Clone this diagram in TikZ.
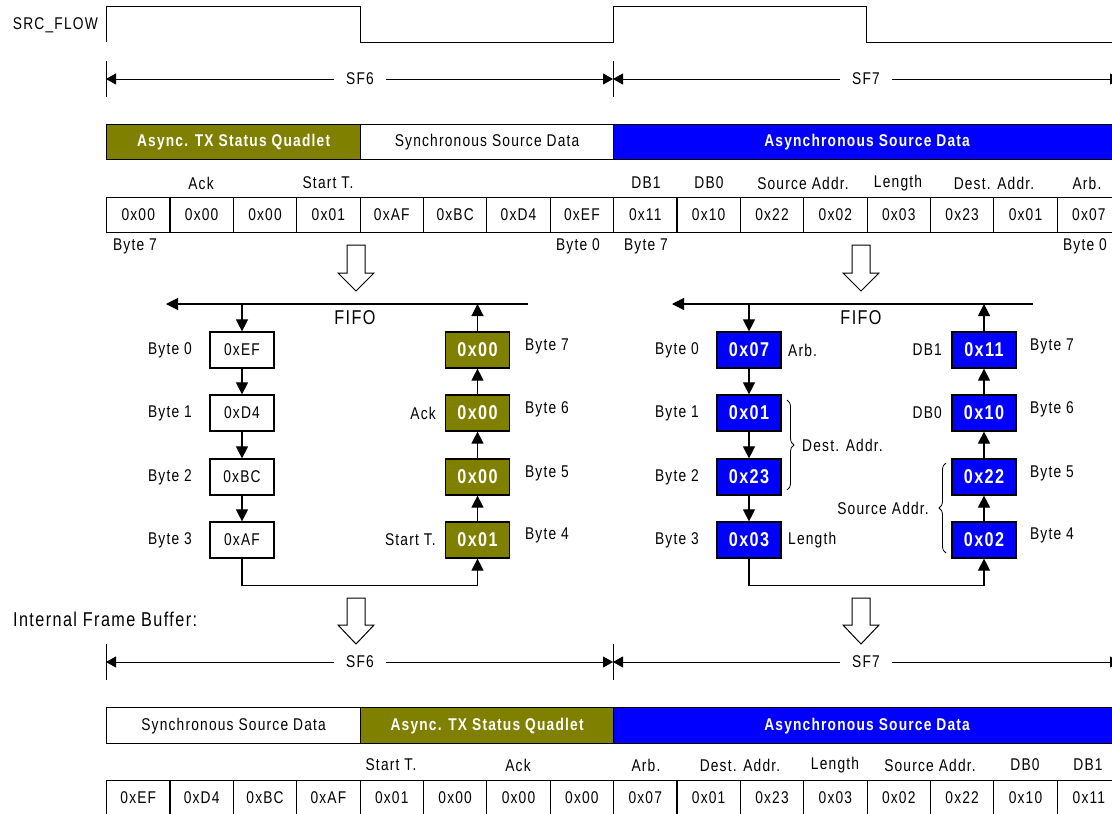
\documentclass[tikz,border=0pt]{standalone}
\usepackage{fontspec}
\setmainfont{Liberation Sans}[FakeStretch=0.81,LetterSpace=7]
\usetikzlibrary{arrows.meta,decorations.pathreplacing,calc}
\definecolor{olv}{HTML}{808000}
\definecolor{blu}{HTML}{0000FF}
\newcommand\fA{\fontsize{17}{20}\selectfont}
\newcommand\fB{\fontsize{20}{23}\selectfont}
\tikzset{
 every node/.style={inner sep=0pt},
 lab/.style={font=\fA},
 cellw/.style={draw, line width=1.2pt, minimum width=63.375pt, minimum height=35pt, font=\fA, anchor=north west},
 bar/.style={draw, line width=1.2pt, minimum height=35pt, anchor=north west, font=\fA},
 obar/.style={bar, fill=olv, text=white, font=\fA\bfseries},
 bbar/.style={bar, fill=blu, text=white, font=\fA\bfseries},
 fbox/.style={draw, line width=1.2pt, minimum width=64pt, minimum height=36pt},
 fw/.style={fbox, font=\fA},
 fo/.style={fbox, fill=olv, text=white, font=\fB\bfseries},
 fb/.style={fbox, fill=blu, text=white, font=\fB\bfseries},
 conn/.style={line width=1.1pt, -{Triangle[length=12pt,width=12pt]}},
 dim/.style={line width=1pt, {Triangle[length=10pt,width=11pt]}-{Triangle[length=10pt,width=11pt]}},
 tick/.style={line width=1pt},
 blk/.style={line width=1pt, fill=white},
 brc/.style={decorate, decoration={brace, amplitude=7pt}, line width=0.8pt},
 dimlab/.style={font=\fA, fill=white, inner xsep=12pt, inner ysep=2pt},
}
\begin{document}
\begin{tikzpicture}[x=1pt,y=-1pt]
\useasboundingbox (0,0) rectangle (1112,814);

% ---------- SRC_FLOW ----------
\node[lab, anchor=east] (srcflow) at (98,25) {SRC\_FLOW};
\draw[line width=1pt] (106,42) -- (106,6) -- (360,6) -- (360,42) -- (613,42) -- (613,6) -- (866,6) -- (866,42) -- (1120,42);

% ---------- top dimension lines ----------
\draw[tick] (106,61) -- (106,97);
\draw[tick] (613,61) -- (613,97);
\draw[tick] (1120,61) -- (1120,97);
\coordinate (u6a) at (106,79); \coordinate (u6b) at (613,79);
\coordinate (u7a) at (613,79); \coordinate (u7b) at (1120,79);
\draw[dim] (u6a) -- (u6b);
\draw[dim] (u7a) -- (u7b);
\node[dimlab] (usf6) at (360,79) {SF6};
\node[dimlab] (usf7) at (866,79) {SF7};

% ---------- top bars ----------
\node[obar, minimum width=254pt] (tatx) at (106,124) {Async. TX Status Quadlet};
\node[bar, minimum width=253pt] (tssd) at (360,124) {Synchronous Source Data};
\node[bbar, minimum width=507pt] (tasd) at (613,124) {Asynchronous Source Data};

% ---------- top labels ----------
\node[lab] (tlA) at (201,183) {Ack};
\node[lab] (tlB) at (328,183) {Start T.};
\node[lab] (tlC) at (646,183) {DB1};
\node[lab] (tlD) at (709,183) {DB0};
\node[lab] (tlE) at (803,183) {Source Addr.};
\node[lab] (tlF) at (898,183) {Length};
\node[lab] (tlG) at (994,183) {Dest. Addr.};
\node[lab] (tlH) at (1087,183) {Arb.};

% ---------- top cells ----------
\foreach \v [count=\i from 0] in {0x00,0x00,0x00,0x01,0xAF,0xBC,0xD4,0xEF,0x11,0x10,0x22,0x02,0x03,0x23,0x01,0x07}
  \node[cellw] (t\i) at ({106+63.375*\i},197) {\v};

\node[lab] (tb1) at (135,246) {Byte 7};
\node[lab] (tb2) at (578,246) {Byte 0};
\node[lab] (tb3) at (646,246) {Byte 7};
\node[lab] (tb4) at (1085,246) {Byte 0};

% ---------- block arrows (upper) ----------
\draw[blk] (347,245) -- (365,245) -- (365,273) -- (374,273) -- (356,291) -- (338,273) -- (347,273) -- cycle;
\draw[blk] (852,245) -- (870,245) -- (870,273) -- (879,273) -- (861,291) -- (843,273) -- (852,273) -- cycle;

% ---------- FIFO left ----------
\coordinate (fL1) at (528,304); \coordinate (fL2) at (166,304);
\draw[conn] (fL1) -- (fL2);
\node[font=\fB] (fifo1) at (355,318) {FIFO};
\node[fw] (L0) at (242,350) {0xEF};
\node[fw] (L1) at (242,413) {0xD4};
\node[fw] (L2) at (242,477) {0xBC};
\node[fw] (L3) at (242,540) {0xAF};
\node[fo] (R7) at (477.5,350) {0x00};
\node[fo] (R6) at (477.5,413) {0x00};
\node[fo] (R5) at (477.5,477) {0x00};
\node[fo] (R4) at (477.5,540) {0x01};
\draw[conn] (L0.north |- fL1) -- (L0.north);
\draw[conn] (L0) -- (L1);
\draw[conn] (L1) -- (L2);
\draw[conn] (L2) -- (L3);
\draw[conn] (L3.south) -- ++(0,27) -| (R4.south);
\draw[conn] (R4) -- (R5);
\draw[conn] (R5) -- (R6);
\draw[conn] (R6) -- (R7);
\draw[conn] (R7.north) -- (R7.north |- fL1);
\node[lab] (lb0) at (170,350) {Byte 0};
\node[lab] (lb1) at (170,413) {Byte 1};
\node[lab] (lb2) at (170,477) {Byte 2};
\node[lab] (lb3) at (170,540) {Byte 3};
\node[lab] (lb7) at (547,346) {Byte 7};
\node[lab] (lb6) at (547,409) {Byte 6};
\node[lab] (lb5) at (547,473) {Byte 5};
\node[lab] (lb4) at (547,535) {Byte 4};
\node[lab, anchor=east] (lack) at (436,413) {Ack};
\node[lab, anchor=east] (lst) at (436,540) {Start T.};

% ---------- FIFO right ----------
\coordinate (fR1) at (1033,304); \coordinate (fR2) at (672,304);
\draw[conn] (fR1) -- (fR2);
\node[font=\fB] (fifo2) at (861,318) {FIFO};
\node[fb] (A0) at (749,350) {0x07};
\node[fb] (A1) at (749,413) {0x01};
\node[fb] (A2) at (749,477) {0x23};
\node[fb] (A3) at (749,540) {0x03};
\node[fb] (B7) at (984,350) {0x11};
\node[fb] (B6) at (984,413) {0x10};
\node[fb] (B5) at (984,477) {0x22};
\node[fb] (B4) at (984,540) {0x02};
\draw[conn] (A0.north |- fR1) -- (A0.north);
\draw[conn] (A0) -- (A1);
\draw[conn] (A1) -- (A2);
\draw[conn] (A2) -- (A3);
\draw[conn] (A3.south) -- ++(0,27) -| (B4.south);
\draw[conn] (B4) -- (B5);
\draw[conn] (B5) -- (B6);
\draw[conn] (B6) -- (B7);
\draw[conn] (B7.north) -- (B7.north |- fR1);
\node[lab] (rb0) at (677,350) {Byte 0};
\node[lab] (rb1) at (677,413) {Byte 1};
\node[lab] (rb2) at (677,477) {Byte 2};
\node[lab] (rb3) at (677,540) {Byte 3};
\node[lab] (rb7) at (1052,346) {Byte 7};
\node[lab] (rb6) at (1052,409) {Byte 6};
\node[lab] (rb5) at (1052,473) {Byte 5};
\node[lab] (rb4) at (1052,535) {Byte 4};
\node[lab, anchor=west] (rarb) at (788,350) {Arb.};
\node[lab, anchor=west] (rlen) at (788,540) {Length};
\node[lab, anchor=east] (rdb1) at (942,350) {DB1};
\node[lab, anchor=east] (rdb0) at (942,413) {DB0};
\draw[brc] (787,400) -- (787,490);
\node[lab, anchor=west] (rdest) at (802,445) {Dest. Addr.};
\draw[brc] (946,553) -- (946,463);
\node[lab, anchor=east] (rsrc) at (929,508) {Source Addr.};

% ---------- lower section ----------
\node[font=\fB, anchor=west] (ifb) at (13,619) {Internal Frame Buffer:};
\draw[blk] (347,598) -- (365,598) -- (365,625) -- (374,625) -- (356,644) -- (338,625) -- (347,625) -- cycle;
\draw[blk] (852,598) -- (870,598) -- (870,625) -- (879,625) -- (861,644) -- (843,625) -- (852,625) -- cycle;

\draw[tick] (106,644) -- (106,680);
\draw[tick] (613,644) -- (613,680);
\draw[tick] (1120,644) -- (1120,680);
\coordinate (l6a) at (106,662); \coordinate (l6b) at (613,662);
\coordinate (l7a) at (613,662); \coordinate (l7b) at (1120,662);
\draw[dim] (l6a) -- (l6b);
\draw[dim] (l7a) -- (l7b);
\node[dimlab] (lsf6) at (360,662) {SF6};
\node[dimlab] (lsf7) at (866,662) {SF7};

\node[bar, minimum width=254pt, minimum height=36pt] (bssd) at (106,707) {Synchronous Source Data};
\node[obar, minimum width=253pt, minimum height=36pt] (batx) at (360,707) {Async. TX Status Quadlet};
\node[bbar, minimum width=507pt, minimum height=36pt] (basd) at (613,707) {Asynchronous Source Data};

\node[lab] (blA) at (391,765) {Start T.};
\node[lab] (blB) at (518,765) {Ack};
\node[lab] (blC) at (646,765) {Arb.};
\node[lab] (blD) at (740,765) {Dest. Addr.};
\node[lab] (blE) at (835,765) {Length};
\node[lab] (blF) at (930,765) {Source Addr.};
\node[lab] (blG) at (1025,765) {DB0};
\node[lab] (blH) at (1088,765) {DB1};

\foreach \v [count=\i from 0] in {0xEF,0xD4,0xBC,0xAF,0x01,0x00,0x00,0x00,0x07,0x01,0x23,0x03,0x02,0x22,0x10,0x11}
  \node[cellw] (b\i) at ({106+63.375*\i},780) {\v};
\end{tikzpicture}
\end{document}
